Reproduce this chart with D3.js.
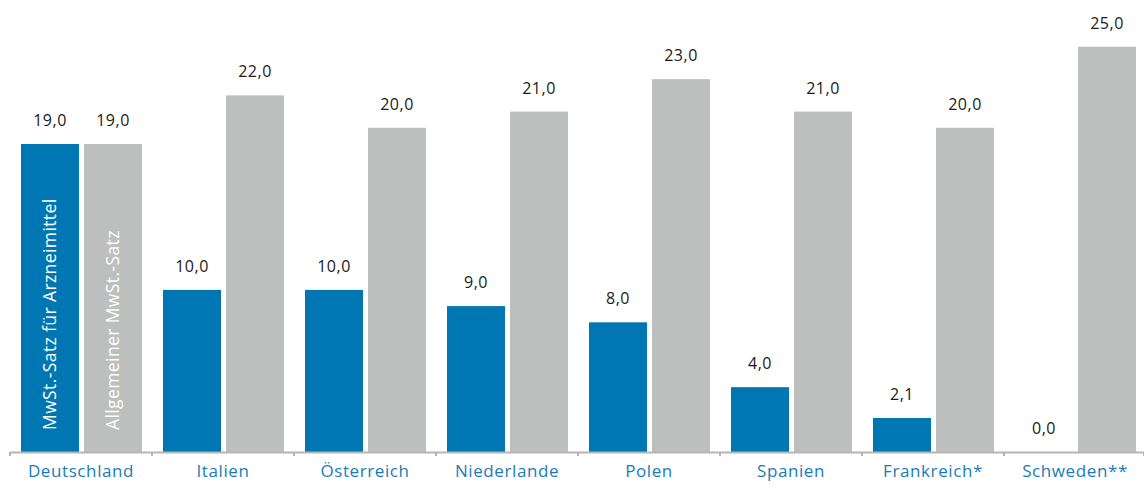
<!DOCTYPE html>
<html><head><meta charset="utf-8">
<script src="https://cdn.jsdelivr.net/npm/d3@7"></script>
<style>body{margin:0;background:#fff;}svg{display:block;}</style>
</head><body><svg id="c" width="1144" height="488"></svg>
<script>
const categories = ["Deutschland","Italien","Österreich","Niederlande","Polen","Spanien","Frankreich*","Schweden**"];
const seriesNames = ["MwSt.-Satz für Arzneimittel","Allgemeiner MwSt.-Satz"];
const arzneimittel = [19.0,10.0,10.0,9.0,8.0,4.0,2.1,0.0];
const allgemein = [19.0,22.0,20.0,21.0,23.0,21.0,20.0,25.0];
const colors = ["#0077b3","#bdbebe"];

const svg = d3.select("#c");
const baseY = 452;
const x0 = d3.scaleBand().domain(categories).range([10,1146]).padding(0);
const x1 = d3.scaleBand().domain(seriesNames).range([11,132]).paddingInner(5/63).paddingOuter(0);
const y = d3.scaleLinear().domain([0,25]).range([baseY, baseY-25*16.21]);
const series = [arzneimittel, allgemein];
const font = "'Open Sans', sans-serif";

const g = svg.append("g");
categories.forEach((c,i)=>{
  series.forEach((vals,s)=>{
    const v = vals[i];
    const bx = x0(c)+x1(seriesNames[s]);
    g.append("rect").attr("x",bx).attr("y",y(v)).attr("width",x1.bandwidth())
      .attr("height",baseY-y(v)).attr("fill",colors[s]);
    g.append("text").attr("x",bx+x1.bandwidth()/2).attr("y",y(v)-18)
      .attr("text-anchor","middle").attr("font-family",font).attr("font-size",16)
      .attr("letter-spacing",0.5)
      .attr("fill","#1a1a1a").text(d3.format(".1f")(v).replace(".",","));
  });
});
// series labels inside first group bars
seriesNames.forEach((n,s)=>{
  const cx = x0(categories[0])+x1(n)+x1.bandwidth()/2;
  g.append("text").attr("transform",`translate(${cx+6},${baseY-22}) rotate(-90)`)
    .attr("font-family",font).attr("font-size",17.5).attr("letter-spacing",0.4).attr("fill","#fff").text(n);
});
// axis
const axis = d3.axisBottom(x0).tickSize(0).tickFormat(d=>d);
const ax = svg.append("g").attr("transform",`translate(0,${baseY})`).call(axis);
ax.select(".domain").attr("stroke","#b5b5b5").attr("stroke-width",2);
ax.selectAll(".tick text").attr("font-family",font).attr("font-size",17).attr("letter-spacing",0.6).attr("fill","#1a7bb8").attr("dy","1.3em");
const bounds = categories.map(c=>x0(c)).concat([x0.range()[1]-2]);
ax.selectAll(".sep").data(bounds).enter().append("line").attr("class","sep")
  .attr("x1",d=>d).attr("x2",d=>d).attr("y1",0).attr("y2",4).attr("stroke","#b5b5b5").attr("stroke-width",2);
</script></body></html>
